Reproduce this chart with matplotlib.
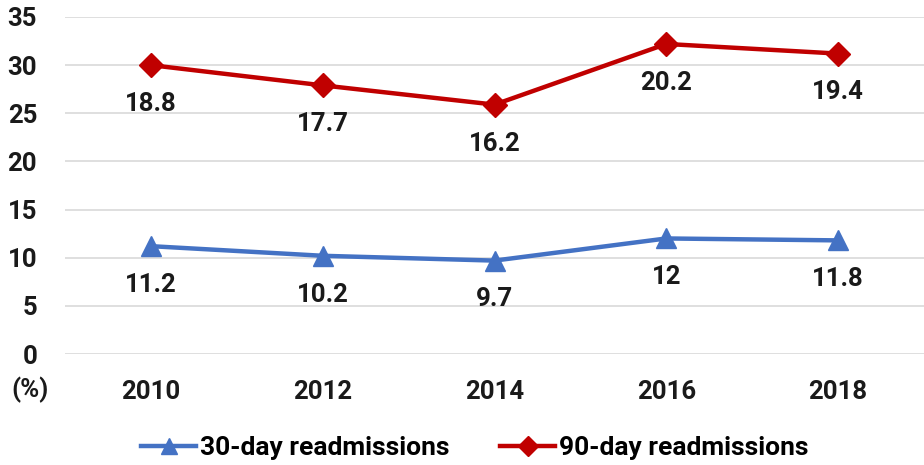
import numpy as np
import matplotlib.pyplot as plt

plt.rcParams['font.family'] = ['Roboto', 'DejaVu Sans']
plt.rcParams['font.weight'] = 'bold'

years = ["2010", "2012", "2014", "2016", "2018"]
day30 = [11.2, 10.2, 9.7, 12, 11.8]
day90 = [18.8, 17.7, 16.2, 20.2, 19.4]  # stacked on top of 30-day values

x = np.arange(len(years))
stack90 = np.array(day30) + np.array(day90)
txt = "#1a1a1a"
fs = 18.5

fig = plt.figure(figsize=(9.24, 4.65), dpi=100)
ax = fig.add_axes([65 / 924, 1 - 354 / 465, 859 / 924, 337 / 465])

ax.plot(x, day30, color="#4472C4", linewidth=3.2, marker="^", markersize=14,
        label="30-day readmissions", zorder=3)
ax.plot(x, stack90, color="#C00000", linewidth=3.2, marker="D", markersize=12,
        label="90-day readmissions", zorder=3)

for xi, yi, v in zip(x, day30, day30):
    ax.annotate(f"{v:g}", (xi, yi), xytext=(0, -28), textcoords="offset points",
                ha="center", va="center", fontsize=fs, fontweight="bold", color=txt)
for xi, yi, v in zip(x, stack90, day90):
    ax.annotate(f"{v:g}", (xi, yi), xytext=(0, -28), textcoords="offset points",
                ha="center", va="center", fontsize=fs, fontweight="bold", color=txt)

ax.set_xlim(-0.5, len(years) - 0.5)
ax.set_ylim(0, 35)
ax.set_yticks(range(0, 36, 5))
ax.set_xticks(x)
ax.set_xticklabels(years)
ax.tick_params(axis="both", length=0, labelsize=fs, colors=txt)
ax.tick_params(axis="x", pad=19)
ax.tick_params(axis="y", pad=20)
ax.grid(axis="y", color="#D9D9D9", linewidth=1.2)
ax.set_axisbelow(True)
for s in ax.spines.values():
    s.set_visible(False)

fig.text(30 / 924, 1 - 390 / 465, "(%)", ha="center", va="center",
         fontsize=fs, fontweight="bold", color=txt)

ax.legend(loc="center", bbox_to_anchor=((475 - 65) / 859, (354 - 448) / 337), ncol=2,
          frameon=False, fontsize=19, handlelength=2.1, columnspacing=1.9,
          handletextpad=0.15, markerscale=0.85)

fig.savefig("out.png", dpi=100)
